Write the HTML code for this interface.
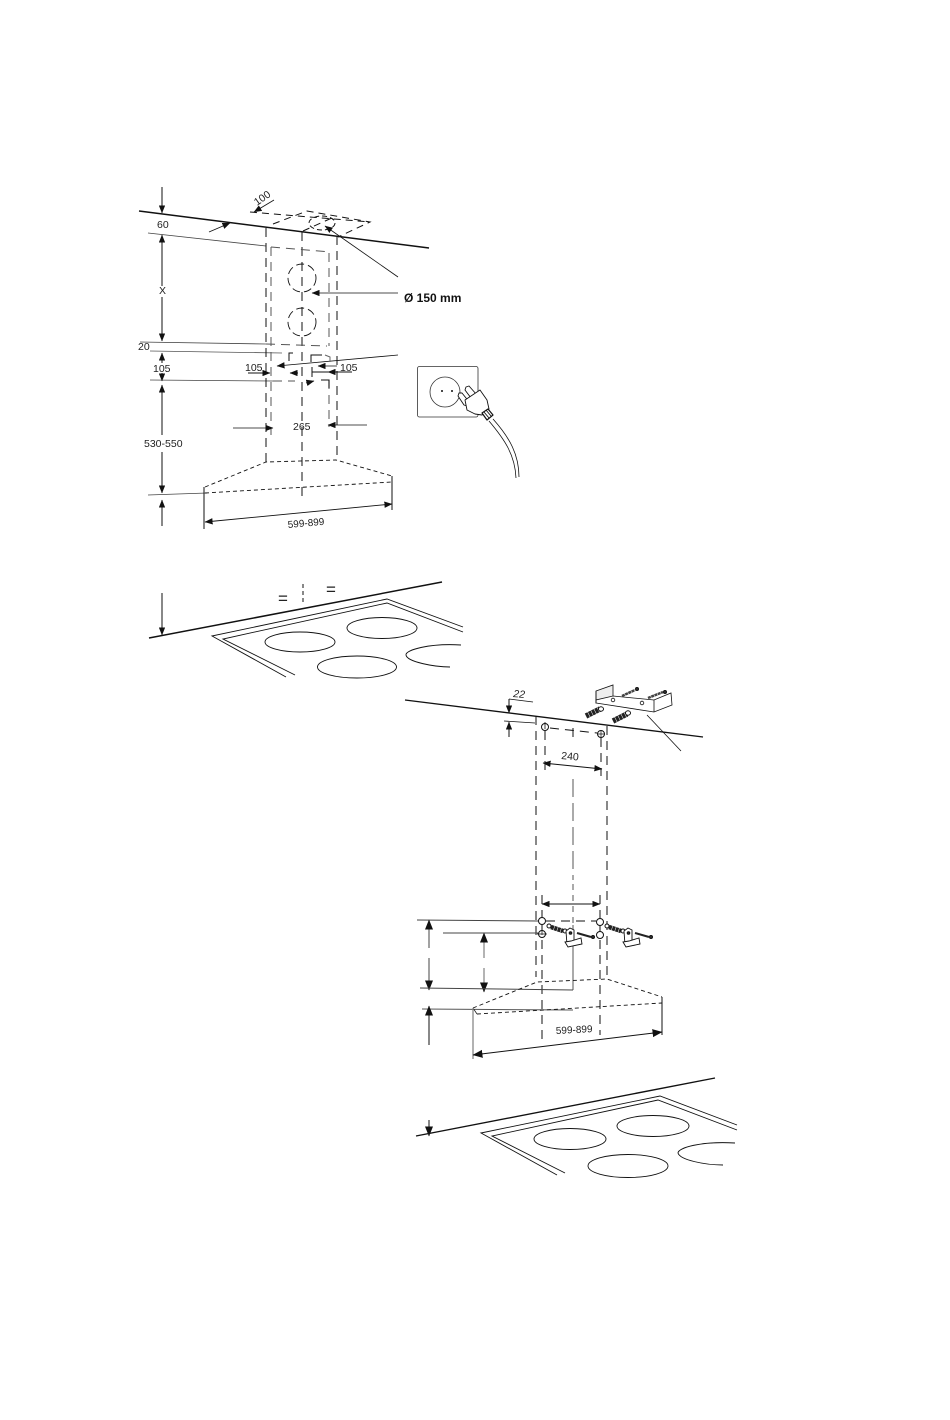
<!DOCTYPE html>
<html>
<head>
<meta charset="utf-8">
<title>Diagram</title>
<style>
html,body{margin:0;padding:0;background:#fff;}
svg{display:block;}
text{font-family:"Liberation Sans",sans-serif;font-size:10.5px;fill:#222;}
.a{fill:#111;stroke:none;}
</style>
</head>
<body>
<svg width="950" height="1420" viewBox="0 0 950 1420" xmlns="http://www.w3.org/2000/svg">
<defs>
<marker id="h" viewBox="0 0 10 8" refX="9.5" refY="4" markerWidth="8" markerHeight="6.4" markerUnits="userSpaceOnUse" orient="auto-start-reverse"><path d="M0,0L10,4L0,8z" fill="#111"/></marker>
<marker id="b" viewBox="0 0 10 8" refX="9.5" refY="4" markerWidth="10" markerHeight="9" markerUnits="userSpaceOnUse" orient="auto-start-reverse"><path d="M0,0L10,4L0,8z" fill="#111"/></marker>
</defs>

<!-- TOP DIAGRAM -->
<g fill="none" stroke="#111" stroke-width="1">
<path d="M139,211L429,248" stroke-width="1.5"/>
<path d="M162,187V213" marker-end="url(#h)"/>
<path d="M209,232L230,223" marker-end="url(#h)" stroke-width=".8"/>
<path d="M148,233L266,246" stroke="#444" stroke-width=".8"/>
<path d="M162,286V235" marker-end="url(#h)"/>
<path d="M162,297V341" marker-end="url(#h)"/>
<path d="M140,342L266,344" stroke="#444" stroke-width=".8"/>
<path d="M150,351L282,353" stroke="#555" stroke-width=".8"/>
<path d="M162,363V353" marker-end="url(#h)"/>
<path d="M162,373V381" marker-end="url(#h)"/>
<path d="M150,380L273,381" stroke="#444" stroke-width=".8"/>
<path d="M162,435V385" marker-end="url(#h)"/>
<path d="M162,452V493" marker-end="url(#h)"/>
<path d="M148,495L207,493" stroke="#444" stroke-width=".8"/>
<path d="M162,526V500" marker-end="url(#h)"/>

<!-- 100 dimension -->
<path d="M274,200L254,212" stroke-width=".8" marker-end="url(#h)"/>
<!-- dashed top cut-out -->
<g stroke-dasharray="7 5">
<path d="M250,212L370,222"/>
<path d="M273,224L307,211L370,222L338,237"/>
<path d="M303,231L334,217"/>
<ellipse cx="322" cy="223" rx="13" ry="7" stroke-dasharray="5 3"/>
</g>
<path d="M398,277L325,226" stroke-width=".8" marker-end="url(#h)"/>

<!-- column dashes -->
<g stroke-dasharray="9 6" stroke-width="1">
<path d="M266,228V462"/>
<path d="M271,247V435" stroke="#555"/>
<path d="M302,232V500"/>
<path d="M329,253V346" stroke="#555"/>
<path d="M329,380V427" stroke="#555"/>
<path d="M337,236V460"/>
<path d="M271,247L330,252" stroke="#555"/>
<path d="M266,344L327,346" stroke="#555"/>
<path d="M273,381L295,381" stroke="#555"/>
</g>
<circle cx="302" cy="278" r="14" stroke-dasharray="8 4" stroke-width=".9"/>
<circle cx="302" cy="322" r="14" stroke-dasharray="8 4" stroke-width=".9"/>
<path d="M398,293H312" stroke-width=".8" marker-end="url(#h)"/>

<!-- 105 details -->
<path d="M398,355L277,366" stroke-width=".8" marker-end="url(#h)"/>
<path d="M289,361V353H293"/>
<path d="M311,362V355H322" stroke-width="1"/>
<path d="M325,355L330,357V362" stroke="#666"/>
<path d="M312,367V377"/>
<path d="M248,373H270" marker-end="url(#h)"/>
<path d="M298,373H290" marker-end="url(#h)"/>
<path d="M352,372H328" marker-end="url(#h)"/>
<path d="M312,372H328"/>
<path d="M337,366H318" stroke-width=".8" marker-end="url(#h)"/>
<path d="M306,383L314,381" stroke-width=".8" marker-end="url(#h)"/>
<path d="M321,380H329V388" stroke-width="1.1"/>

<!-- 265 -->
<path d="M233,428H273" stroke-width=".8" marker-end="url(#h)"/>
<path d="M367,425H328" stroke-width=".8" marker-end="url(#h)"/>

<!-- hood -->
<g stroke-dasharray="4 3" stroke-width=".9">
<path d="M205,487L266,462L336,460L392,476"/>
<path d="M205,493L392,482"/>
</g>
<path d="M204,487V529"/>
<path d="M392,476V510"/>
<path d="M205,522L392,504" marker-start="url(#h)" marker-end="url(#h)" stroke-width=".9"/>

<!-- socket -->
<rect x="417.500" y="366.500" width="60.500" height="50.500" rx="2" stroke-width=".8" stroke="#333"/>
<circle cx="445" cy="392" r="15" stroke-width=".8" stroke="#333"/>
<circle class="a" cx="442" cy="391" r="1"/>
<circle class="a" cx="452" cy="391" r="1"/>
<g fill="#fff" stroke-width=".9" stroke-linejoin="round">
<path d="M466,387L469,386L477,395L475,399L471,398L465,390z"/>
<path d="M459,393L462,393L470,403L467,406L464,405L458,396z"/>
<path d="M465,400L480,390L487,400L489,409L482,415L475,414L467,410z"/>
<path d="M482,413L488,409L493,415L487,420z" stroke-width="1.200"/>
</g>
<path d="M484,412L489,418M486,410L491,416" stroke-width=".9"/>
<path d="M489,421C505,440 515,455 516,478" stroke-width=".8"/>
<path d="M493,419C510,438 519,455 519,477" stroke-width=".8"/>

<!-- top cooktop -->
<path d="M149,638L442,582" stroke-width="1.5"/>
<path d="M162,593V635" marker-end="url(#h)"/>
<path d="M303,584V602" stroke-dasharray="4 3"/>
<path d="M286,677L212,636L387,599L463,627" stroke-width=".9"/>
<path d="M295,675L223,639L387,603L463,632" stroke-width=".9"/>
<ellipse cx="300" cy="642" rx="35" ry="10" stroke-width=".9"/>
<ellipse cx="382" cy="628" rx="35" ry="10.500" stroke-width=".9"/>
<ellipse cx="357" cy="667" rx="39.500" ry="11" stroke-width=".9"/>
<path d="M461,645C430,643 405,650 406,655C407,662 435,667 450,667" stroke-width=".9"/>

<!-- LOWER DIAGRAM -->
<path d="M405,700L703,737" stroke-width="1.300"/>
<path d="M509,699L533,702" stroke-width=".8"/>
<path d="M509,699V713" marker-end="url(#h)"/>
<path d="M504,721L535,723" stroke-width=".8"/>
<path d="M509,737V722" marker-end="url(#h)"/>
<g stroke-dasharray="9 6">
<path d="M536,716V977"/>
<path d="M607,726V977"/>
<path d="M545,731V776"/>
<path d="M601,738V776"/>
<path d="M550,728L597,733"/>
<path d="M573,728V740"/>
<path d="M542,895V1042"/>
<path d="M600,895V1035"/>
<path d="M546,921H596"/>
</g>
<path d="M573,779V880" stroke-dasharray="18 6" stroke="#555"/>
<path d="M573,884V925" stroke-dasharray="6 5" stroke="#555"/>
<path d="M573,925V990" stroke="#555"/>
<circle cx="545" cy="727" r="3.500" fill="#fff"/>
<path d="M545,722V729" stroke-width=".8"/>
<circle cx="601" cy="734" r="3.500" fill="#fff"/>
<path d="M601,730V738M597,734H605" stroke-width=".7"/>
<path d="M543,763L602,769" marker-start="url(#h)" marker-end="url(#h)"/>

<!-- wall bracket -->
<g stroke-width=".8" fill="#fff">
<path d="M596,691L613,685L613,698L596,703z" fill="#eee"/>
<path d="M596,703L654,712L672,705L671,693L654,700L613,696L596,700z"/>
<path d="M654,700V712"/>
<path d="M596,691V703"/>
<circle cx="613" cy="700" r="1.800"/>
<circle cx="642" cy="703" r="1.800"/>
</g>
<path d="M622,696L635,690" stroke-width="2.500" stroke="#444" stroke-dasharray="3 .5"/>
<path d="M648,698L663,692" stroke-width="2.500" stroke="#444" stroke-dasharray="3 .5"/>
<circle cx="637" cy="689" r="1.500" fill="#333"/>
<circle cx="665" cy="692" r="1.500" fill="#333"/>
<path d="M586,716L600,709" stroke-width="5.500" stroke="#222" stroke-dasharray="3 .5"/>
<path d="M613,721L627,714" stroke-width="5.500" stroke="#222" stroke-dasharray="3 .5"/>
<ellipse cx="601" cy="709" rx="2.500" ry="2.200" fill="#fff"/>
<ellipse cx="628" cy="713" rx="2.500" ry="2.200" fill="#fff"/>
<path d="M647,715L681,751" stroke-width=".8"/>

<!-- lower hood and dims -->
<path d="M542,904H600" marker-start="url(#h)" marker-end="url(#h)"/>
<path d="M417,920L538,921" stroke="#444"/>
<path d="M443,933H538" stroke="#444"/>
<path d="M429,948V920" marker-end="url(#b)" stroke="#555" stroke-width="1.100"/>
<path d="M429,958V990" marker-end="url(#b)" stroke="#555" stroke-width="1.100"/>
<path d="M484,958V933" marker-end="url(#b)" stroke="#777" stroke-width="1.100"/>
<path d="M484,968V992" marker-end="url(#b)" stroke="#777" stroke-width="1.100"/>
<path d="M420,988L573,990" stroke="#444"/>
<path d="M422,1009L573,1010" stroke="#555"/>
<path d="M429,1045V1006" marker-end="url(#b)"/>
<g stroke-dasharray="4 3" stroke-width=".9">
<path d="M473,1008L537,982L607,979L662,997"/>
<path d="M477,1014L662,1003"/>
</g>
<path d="M473,1008L477,1014" stroke-width=".7"/>
<path d="M473,1008V1059" stroke="#888" stroke-width="1.300"/>
<path d="M662,997V1035"/>
<path d="M473,1055L662,1032" marker-start="url(#b)" marker-end="url(#b)"/>

<circle cx="542" cy="921" r="3.500" fill="#fff"/>
<circle cx="600" cy="922" r="3.500" fill="#fff"/>
<circle cx="542" cy="934" r="3.500" fill="#fff"/>
<path d="M542,929V935M537,934H547" stroke-width=".7"/>
<circle cx="600" cy="935" r="3.500" fill="#fff"/>

<!-- fittings -->
<g>
<path d="M551,927L563,931" stroke-width="4.500" stroke="#222" stroke-dasharray="3 .5"/>
<ellipse cx="549" cy="926" rx="2" ry="2" fill="#fff"/>
<circle cx="565" cy="931" r="2" fill="#fff"/>
<path d="M577,933L591,937" stroke-width="2" stroke="#222"/>
<circle cx="593" cy="937" r="1.500" fill="#333"/>
<path d="M566,931L570,928L574,930L574,942L567,945z" fill="#fff" stroke-width=".9"/>
<path d="M565,942L568,947L582,944L581,938L571,941z" fill="#fff" stroke-width=".9"/>
<circle cx="570.500" cy="933" r="1.300" fill="#333"/>
</g>
<g transform="translate(58,0)">
<path d="M551,927L563,931" stroke-width="4.500" stroke="#222" stroke-dasharray="3 .5"/>
<ellipse cx="549" cy="926" rx="2" ry="2" fill="#fff"/>
<circle cx="565" cy="931" r="2" fill="#fff"/>
<path d="M577,933L591,937" stroke-width="2" stroke="#222"/>
<circle cx="593" cy="937" r="1.500" fill="#333"/>
<path d="M566,931L570,928L574,930L574,942L567,945z" fill="#fff" stroke-width=".9"/>
<path d="M565,942L568,947L582,944L581,938L571,941z" fill="#fff" stroke-width=".9"/>
<circle cx="570.500" cy="933" r="1.300" fill="#333"/>
</g>

<!-- bottom cooktop -->
<path d="M416,1136L715,1078" stroke-width="1.400"/>
<path d="M429,1120V1136" marker-end="url(#b)"/>
<path d="M557,1175L481,1133L660,1096L737,1125" stroke-width=".9"/>
<path d="M565,1173L492,1136L658,1100L737,1130" stroke-width=".9"/>
<ellipse cx="570" cy="1139" rx="36" ry="10.500" stroke-width=".9"/>
<ellipse cx="653" cy="1126" rx="36" ry="10.500" stroke-width=".9"/>
<ellipse cx="628" cy="1166" rx="40" ry="11.500" stroke-width=".9"/>
<path d="M735,1143C700,1141 678,1148 678,1153C680,1160 705,1165 723,1165" stroke-width=".9"/>
</g>

<!-- LABELS -->
<text x="157" y="228">60</text>
<text x="257" y="206" transform="rotate(-35 257 206)">100</text>
<text x="159" y="294">X</text>
<text x="138" y="350">20</text>
<text x="153" y="372">105</text>
<text x="245" y="371">105</text>
<text x="340" y="371">105</text>
<text x="293" y="430">265</text>
<text x="144" y="447">530-550</text>
<text x="404" y="302" style="font-weight:bold;font-size:12px;fill:#111">Ø 150 mm</text>
<text x="288" y="528" transform="rotate(-5 288 528)" style="font-size:10px">599-899</text>
<text x="278" y="604" style="font-size:17px">=</text>
<text x="326" y="595" style="font-size:17px">=</text>
<text x="513" y="697" transform="rotate(5 513 697)" style="font-style:italic">22</text>
<text x="561" y="759" transform="rotate(5 561 759)">240</text>
<text x="556" y="1034" transform="rotate(-3 556 1034)" style="font-size:10px">599-899</text>
</svg>
</body>
</html>
